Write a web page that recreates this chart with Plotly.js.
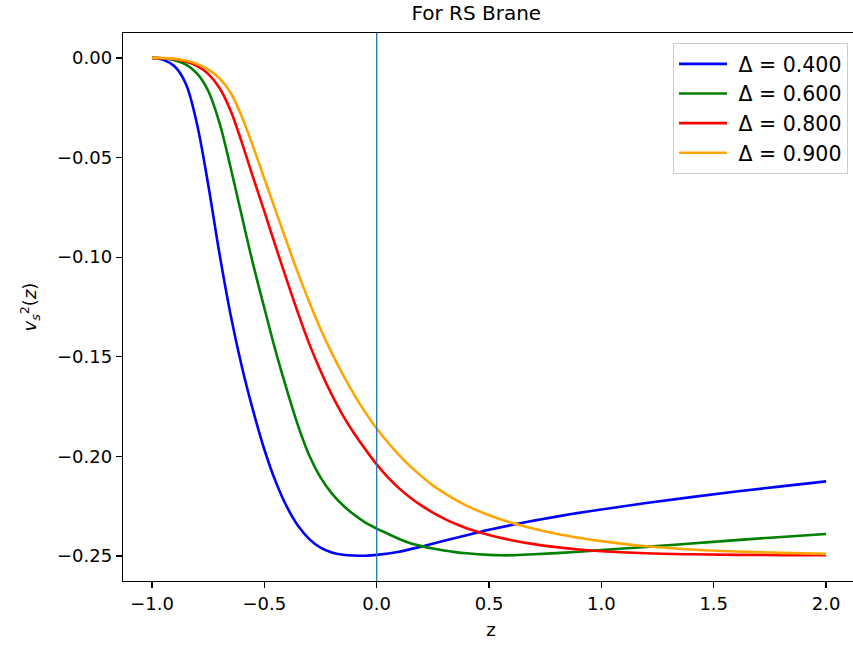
<!DOCTYPE html>
<html>
<head>
<meta charset="utf-8">
<script src="https://cdn.plot.ly/plotly-3.0.1.min.js"></script>
<style>
html, body { margin: 0; padding: 0; overflow: hidden; background: #fff; }
#chart { width: 859px; height: 648px; }
</style>
</head>
<body>
<div id="chart"></div>
<script>
// Δ = 0.400
const zBlue = [-1.0, -0.95, -0.9, -0.85, -0.8, -0.75, -0.7, -0.65, -0.6, -0.55, -0.5, -0.45, -0.4, -0.35, -0.3, -0.25, -0.2, -0.15, -0.1, -0.05, 0.0, 0.1, 0.2, 0.3, 0.4, 0.5, 0.6, 0.7, 0.8, 0.9, 1.0, 1.2, 1.4, 1.6, 1.8, 2.0];
const vBlue = [0, -0.001, -0.0042, -0.0128, -0.033, -0.0635, -0.098, -0.129, -0.155, -0.177, -0.1965, -0.2125, -0.2252, -0.2348, -0.2415, -0.2458, -0.2482, -0.2493, -0.2497, -0.2498, -0.2494, -0.2478, -0.2452, -0.2423, -0.2395, -0.2368, -0.2344, -0.2322, -0.2302, -0.2283, -0.2266, -0.2234, -0.2204, -0.2176, -0.215, -0.2125];
// Δ = 0.600
const zGreen = [-1.0, -0.95, -0.9, -0.85, -0.8, -0.75, -0.7, -0.65, -0.6, -0.55, -0.5, -0.45, -0.4, -0.35, -0.3, -0.25, -0.2, -0.15, -0.1, -0.05, 0.0, 0.05, 0.1, 0.15, 0.2, 0.25, 0.3, 0.35, 0.4, 0.5, 0.55, 0.6, 0.7, 0.8, 0.9, 1.0, 1.2, 1.4, 1.6, 1.8, 2.0];
const vGreen = [0, -0.0003, -0.0012, -0.0033, -0.0078, -0.0165, -0.0325, -0.055, -0.0795, -0.1035, -0.1255, -0.147, -0.1665, -0.1845, -0.1995, -0.2105, -0.2185, -0.2245, -0.2293, -0.2332, -0.2362, -0.2388, -0.2414, -0.2435, -0.245, -0.2462, -0.2472, -0.248, -0.2486, -0.2494, -0.2496, -0.2496, -0.2491, -0.2485, -0.2478, -0.247, -0.2454, -0.2437, -0.242, -0.2404, -0.2389];
// Δ = 0.800
const zRed = [-1.0, -0.95, -0.9, -0.85, -0.8, -0.75, -0.7, -0.65, -0.6, -0.55, -0.5, -0.45, -0.4, -0.35, -0.3, -0.25, -0.2, -0.15, -0.1, -0.05, 0.0, 0.05, 0.1, 0.15, 0.2, 0.25, 0.3, 0.35, 0.4, 0.5, 0.6, 0.7, 0.8, 0.9, 1.0, 1.2, 1.4, 1.6, 1.8, 2.0];
const vRed = [0, -0.0002, -0.0006, -0.0018, -0.004, -0.008, -0.015, -0.0265, -0.0425, -0.06, -0.077, -0.0945, -0.1115, -0.128, -0.1435, -0.157, -0.169, -0.1795, -0.1885, -0.1965, -0.204, -0.2105, -0.216, -0.2207, -0.2247, -0.2282, -0.2312, -0.2338, -0.236, -0.2394, -0.242, -0.244, -0.2455, -0.2467, -0.2476, -0.2486, -0.2491, -0.2494, -0.2495, -0.2496];
// Δ = 0.900
const zOrange = [-1.0, -0.95, -0.9, -0.85, -0.8, -0.75, -0.7, -0.65, -0.6, -0.55, -0.5, -0.45, -0.4, -0.35, -0.3, -0.25, -0.2, -0.15, -0.1, -0.05, 0.0, 0.05, 0.1, 0.15, 0.2, 0.25, 0.3, 0.35, 0.4, 0.5, 0.6, 0.7, 0.8, 0.9, 1.0, 1.2, 1.4, 1.6, 1.8, 2.0];
const vOrange = [0, -0.0001, -0.0005, -0.0013, -0.003, -0.0058, -0.0102, -0.0175, -0.0295, -0.0445, -0.0605, -0.0765, -0.0925, -0.108, -0.1225, -0.136, -0.148, -0.159, -0.169, -0.178, -0.186, -0.193, -0.1993, -0.205, -0.21, -0.2145, -0.2183, -0.2217, -0.2247, -0.2295, -0.2333, -0.2363, -0.2388, -0.2408, -0.2425, -0.2451, -0.2467, -0.2477, -0.2484, -0.2489];

const seriesNames = ["Δ = 0.400", "Δ = 0.600", "Δ = 0.800", "Δ = 0.900"];
const seriesColors = ["#0000ff", "#008000", "#ff0000", "#ffa500"];
const xTicks = [-1.0, -0.5, 0.0, 0.5, 1.0, 1.5, 2.0];
const yTicks = [0.0, -0.05, -0.10, -0.15, -0.20, -0.25];
const vlineX = 0.0;

const xs = [zBlue, zGreen, zRed, zOrange];
const ys = [vBlue, vGreen, vRed, vOrange];

const traces = xs.map((x, i) => ({
  x: x, y: ys[i], type: "scatter", mode: "lines",
  name: "\u00a0" + seriesNames[i], legendgroup: "g" + i,
  line: { color: seriesColors[i], width: 2.6, shape: "spline", smoothing: 1 }
}));

const font = "DejaVu Sans, sans-serif";
const layout = {
  width: 859, height: 648,
  margin: { l: 123, r: 0, t: 33, b: 67 },
  paper_bgcolor: "#fff", plot_bgcolor: "#fff",
  font: { family: font, size: 18, color: "#000" },
  title: { text: "For RS Brane", x: 0.48, xref: "paper", xanchor: "center", y: 1 - 13/648, yref: "container", yanchor: "middle", font: { family: font, size: 20, color: "#000" } },
  xaxis: {
    range: [-1.129, 2.1465], tickvals: xTicks, tickformat: ".1f",
    showgrid: false, zeroline: false, showline: true, mirror: true, linecolor: "#000", linewidth: 1.3,
    ticks: "outside", ticklen: 6, tickwidth: 1.3, tickcolor: "#000",
    tickfont: { family: font, size: 18 },
    title: { text: "z", font: { family: font, size: 18 }, standoff: 10 }
  },
  yaxis: {
    range: [-0.2625, 0.0125], tickvals: yTicks, tickformat: ".2f",
    showgrid: false, zeroline: false, showline: true, mirror: true, linecolor: "#000", linewidth: 1.3,
    ticks: "outside", ticklen: 6, tickwidth: 1.3, tickcolor: "#000",
    tickfont: { family: font, size: 18 },
    title: { text: "<i>v</i><sub><i>s</i></sub><sup>2</sup>(<i>z</i>)", font: { family: font, size: 18 }, standoff: 15 }
  },
  shapes: [{ type: "line", xref: "x", yref: "paper", x0: vlineX, x1: vlineX, y0: 0, y1: 1, line: { color: "#1f77b4", width: 1.3 } }],
  legend: {
    x: (848 - 123) / 736, y: 1 - (43 - 33) / 548, xanchor: "right", yanchor: "top",
    bgcolor: "rgba(255,255,255,0.8)", bordercolor: "#cccccc", borderwidth: 1,
    font: { family: font, size: 20.5 }, tracegroupgap: 0, itemwidth: 48
  },
  showlegend: true
};

Plotly.newPlot("chart", traces, layout, { displayModeBar: false, staticPlot: true });
</script>
</body>
</html>
